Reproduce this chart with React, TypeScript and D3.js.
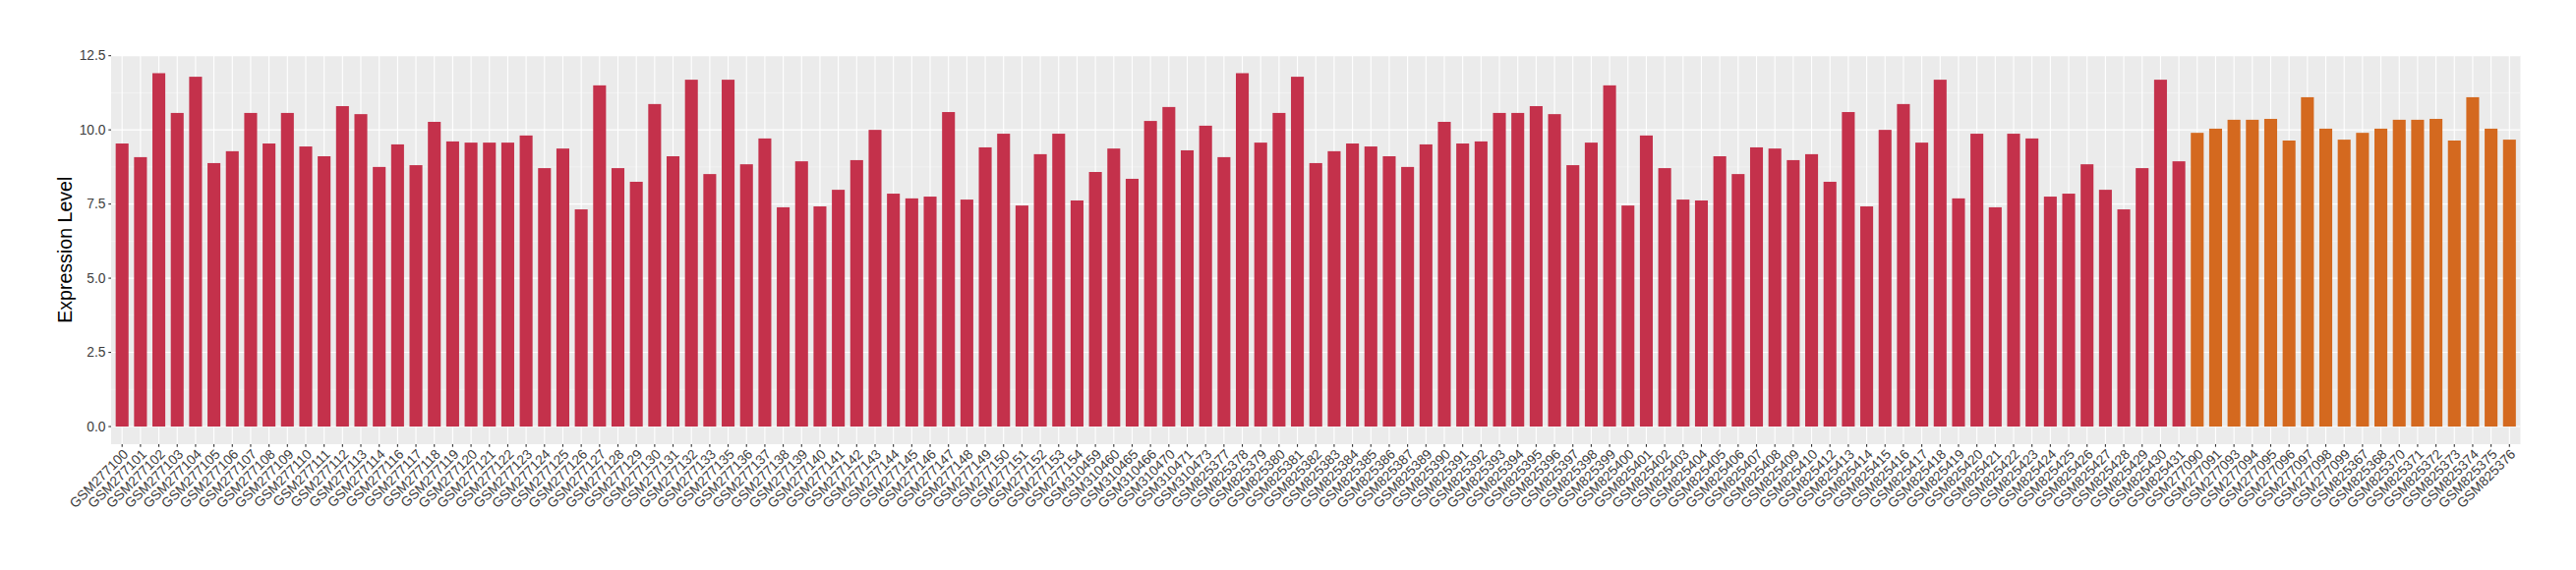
import React from "react";
import * as d3 from "d3";

const tumorSamples = [
  "GSM277100", "GSM277101", "GSM277102", "GSM277103", "GSM277104", "GSM277105", "GSM277106", "GSM277107",
  "GSM277108", "GSM277109", "GSM277110", "GSM277111", "GSM277112", "GSM277113", "GSM277114", "GSM277116",
  "GSM277117", "GSM277118", "GSM277119", "GSM277120", "GSM277121", "GSM277122", "GSM277123", "GSM277124",
  "GSM277125", "GSM277126", "GSM277127", "GSM277128", "GSM277129", "GSM277130", "GSM277131", "GSM277132",
  "GSM277133", "GSM277135", "GSM277136", "GSM277137", "GSM277138", "GSM277139", "GSM277140", "GSM277141",
  "GSM277142", "GSM277143", "GSM277144", "GSM277145", "GSM277146", "GSM277147", "GSM277148", "GSM277149",
  "GSM277150", "GSM277151", "GSM277152", "GSM277153", "GSM277154", "GSM310459", "GSM310460", "GSM310465",
  "GSM310466", "GSM310470", "GSM310471", "GSM310473", "GSM825377", "GSM825378", "GSM825379", "GSM825380",
  "GSM825381", "GSM825382", "GSM825383", "GSM825384", "GSM825385", "GSM825386", "GSM825387", "GSM825389",
  "GSM825390", "GSM825391", "GSM825392", "GSM825393", "GSM825394", "GSM825395", "GSM825396", "GSM825397",
  "GSM825398", "GSM825399", "GSM825400", "GSM825401", "GSM825402", "GSM825403", "GSM825404", "GSM825405",
  "GSM825406", "GSM825407", "GSM825408", "GSM825409", "GSM825410", "GSM825412", "GSM825413", "GSM825414",
  "GSM825415", "GSM825416", "GSM825417", "GSM825418", "GSM825419", "GSM825420", "GSM825421", "GSM825422",
  "GSM825423", "GSM825424", "GSM825425", "GSM825426", "GSM825427", "GSM825428", "GSM825429", "GSM825430",
  "GSM825431",
];

const tumorValues = [
  9.54, 9.08, 11.91, 10.57, 11.79, 8.88, 9.28, 10.57,
  9.54, 10.57, 9.44, 9.11, 10.8, 10.53, 8.75, 9.51,
  8.81, 10.27, 9.61, 9.57, 9.57, 9.57, 9.81, 8.71,
  9.37, 7.32, 11.5, 8.71, 8.25, 10.87, 9.11, 11.69,
  8.51, 11.69, 8.84, 9.71, 7.39, 8.94, 7.42, 7.98,
  8.98, 10.0, 7.85, 7.69, 7.75, 10.6, 7.65, 9.41,
  9.87, 7.45, 9.18, 9.87, 7.62, 8.58, 9.37, 8.35,
  10.3, 10.77, 9.31, 10.14, 9.08, 11.91, 9.57, 10.57,
  11.79, 8.88, 9.28, 9.54, 9.44, 9.11, 8.75, 9.51,
  10.27, 9.54, 9.61, 10.57, 10.57, 10.8, 10.53, 8.81,
  9.57, 11.5, 7.45, 9.81, 8.71, 7.65, 7.62, 9.11,
  8.51, 9.41, 9.37, 8.98, 9.18, 8.25, 10.6, 7.42,
  10.0, 10.87, 9.57, 11.69, 7.69, 9.87, 7.39, 9.87,
  9.71, 7.75, 7.85, 8.84, 7.98, 7.32, 8.71, 11.69,
  8.94,
];

const normalSamples = [
  "GSM277090", "GSM277091", "GSM277093", "GSM277094", "GSM277095", "GSM277096", "GSM277097", "GSM277098",
  "GSM277099", "GSM825367", "GSM825368", "GSM825370", "GSM825371", "GSM825372", "GSM825373", "GSM825374",
  "GSM825375", "GSM825376",
];

const normalValues = [
  9.9, 10.04, 10.34, 10.34, 10.37, 9.64, 11.1, 10.04,
  9.67, 9.9, 10.04, 10.34, 10.34, 10.37, 9.64, 11.1,
  10.04, 9.67,
];

const groupNames = ["tumor", "normal"];
const groupColors = ["#C4314B", "#D4691F"];
const yTicks = [0, 2.5, 5, 7.5, 10, 12.5];
const yMinorTicks = [1.25, 3.75, 6.25, 8.75, 11.25];
const yTitle = "Expression Level";

export default function App() {
  const W = 2620;
  const H = 580;
  const left = 113;
  const right = 2563.5;
  const top = 56.5;
  const bottom = 452;

  const samples = [...tumorSamples, ...normalSamples];
  const values = [...tumorValues, ...normalValues];
  const groups = samples.map((_, i) => (i < tumorSamples.length ? groupNames[0] : groupNames[1]));

  const x = d3.scaleBand<string>().domain(samples).range([left, right]).paddingInner(0.3).paddingOuter(0.25);
  const maxV = d3.max(values) as number;
  const y = d3.scaleLinear().domain([-0.05 * maxV, 1.05 * maxV]).range([bottom, top]);
  const color = d3.scaleOrdinal<string, string>().domain(groupNames).range(groupColors);
  const bw = x.bandwidth();
  const font = "'Liberation Sans', Arial, Helvetica, sans-serif";
  const tickColor = "#3D3D3D";

  return (
    <svg width={W} height={H} style={{ position: "absolute", left: 0, top: 0, background: "#fff" }} fontFamily={font}>
      <rect x={left} y={top} width={right - left} height={bottom - top} fill="#EBEBEB" />
      {yMinorTicks.map((t) => (
        <line key={"mn" + t} x1={left} x2={right} y1={y(t)} y2={y(t)} stroke="#F7F7F7" strokeWidth={0.6} />
      ))}
      {yTicks.map((t) => (
        <line key={"mj" + t} x1={left} x2={right} y1={y(t)} y2={y(t)} stroke="#FFFFFF" strokeWidth={1.1} />
      ))}
      {samples.map((s) => (
        <line key={"vg" + s} x1={(x(s) as number) + bw / 2} x2={(x(s) as number) + bw / 2} y1={top} y2={bottom} stroke="#FFFFFF" strokeWidth={1.1} />
      ))}
      {samples.map((s, i) => (
        <rect
          key={"b" + s}
          x={x(s) as number}
          y={y(values[i])}
          width={bw}
          height={y(0) - y(values[i])}
          fill={color(groups[i])}
        />
      ))}
      {yTicks.map((t) => (
        <g key={"yt" + t}>
          <line x1={left - 2.7} x2={left} y1={y(t)} y2={y(t)} stroke="#333333" strokeWidth={1.1} />
          <text x={left - 5.5} y={y(t)} dy="0.35em" textAnchor="end" fontSize={13.8} fill={tickColor}>
            {t.toFixed(1)}
          </text>
        </g>
      ))}
      {samples.map((s) => {
        const cx = (x(s) as number) + bw / 2;
        return (
          <g key={"xt" + s}>
            <line x1={cx} x2={cx} y1={bottom} y2={bottom + 2.7} stroke="#333333" strokeWidth={1.1} />
            <text transform={`translate(${cx + 7},${463}) rotate(-45)`} textAnchor="end" fontSize={13.8} fill={tickColor}>
              {s}
            </text>
          </g>
        );
      })}
      <text transform={`translate(72.5,${(top + bottom) / 2}) rotate(-90)`} textAnchor="middle" fontSize={19.6} fill="#000">
        {yTitle}
      </text>
    </svg>
  );
}
